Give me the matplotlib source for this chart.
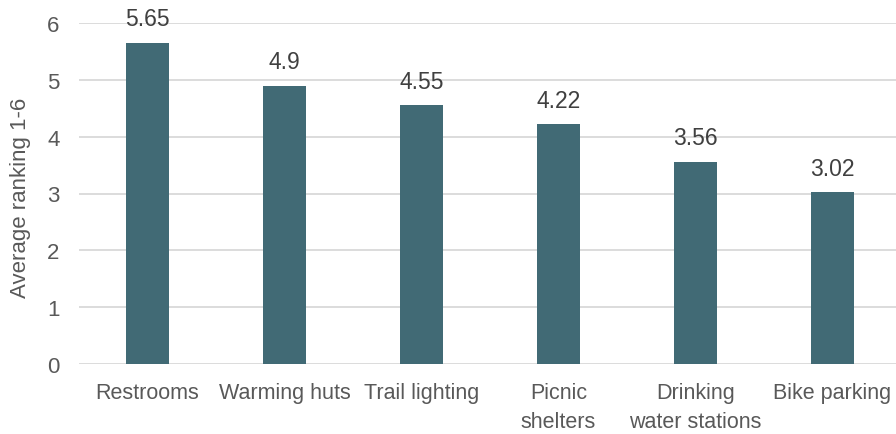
import matplotlib.pyplot as plt
import numpy as np

plt.rcParams['font.family'] = ['Liberation Sans', 'DejaVu Sans']

categories = ['Restrooms', 'Warming huts', 'Trail lighting', 'Picnic\nshelters',
              'Drinking\nwater stations', 'Bike parking']
values = [5.65, 4.9, 4.55, 4.22, 3.56, 3.02]
value_labels = ['5.65', '4.9', '4.55', '4.22', '3.56', '3.02']

W, H, DPI = 896, 435, 100
fig = plt.figure(figsize=(W / DPI, H / DPI), dpi=DPI)
# plot area in pixels: x 79..901, y 24..365 (from top)
ax = fig.add_axes([79 / W, (H - 365) / H, (901 - 79) / W, (365 - 24) / H])

txt = '#595959'
x = np.arange(len(categories))
ax.bar(x, values, width=0.315, color='#416A75', zorder=3)

for xi, v, lab in zip(x, values, value_labels):
    ax.text(xi, v + 0.22, lab, ha='center', va='bottom', fontsize=16.5, color='#404040')

ax.set_xlim(-0.5, 5.5)
ax.set_ylim(0, 6)
ax.set_yticks(range(0, 7))
ax.set_xticks(x)
ax.set_xticklabels(categories, fontsize=15.5, color=txt, linespacing=1.5)
ax.tick_params(axis='y', labelsize=16, labelcolor=txt, length=0, pad=14)
ax.tick_params(axis='x', length=0, pad=13)
ax.yaxis.grid(True, color='#D9D9D9', linewidth=1.3, zorder=0)
for s in ax.spines.values():
    s.set_visible(False)
ax.set_ylabel('Average ranking 1-6', fontsize=16, color=txt)
ax.yaxis.set_label_coords(-0.058, 0.49)

fig.savefig('out.png', dpi=DPI)
